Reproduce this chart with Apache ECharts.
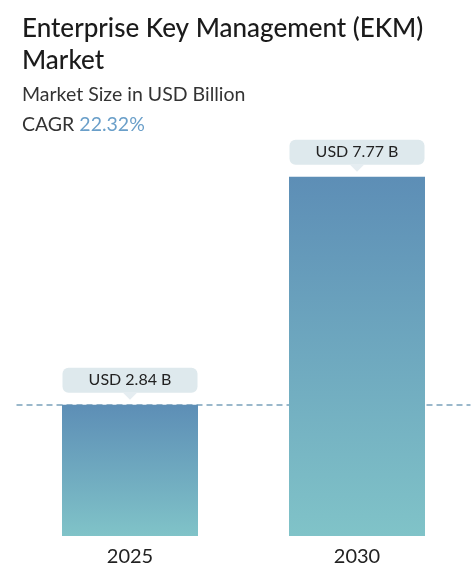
<!DOCTYPE html>
<html>
<head>
<meta charset="utf-8">
<script src="https://cdn.jsdelivr.net/npm/echarts@6/dist/echarts.min.js"></script>
<style>
html,body{margin:0;padding:0;background:#fff;}
#chart{width:475px;height:577px;}
</style>
</head>
<body>
<div id="chart"></div>
<script>
const categories = ['2025', '2030'];
const marketSize = [2.84, 7.77];
const valueLabels = ['USD 2.84 B', 'USD 7.77 B'];
const titleText = 'Enterprise Key Management (EKM)\nMarket';
const subtitleText = 'Market Size in USD Billion';
const cagrText = '22.32%';

const FONT = 'Lato, "Open Sans", sans-serif';
const chart = echarts.init(document.getElementById('chart'));
chart.setOption({
  backgroundColor: '#ffffff',
  animation: false,
  title: [
    {
      text: titleText, left: 17, top: 8,
      textStyle: { fontFamily: FONT, fontSize: 26, fontWeight: 500, color: '#1b1b1b', lineHeight: 32 }
    },
    {
      text: subtitleText, left: 17, top: 80,
      textStyle: { fontFamily: FONT, fontSize: 19.5, fontWeight: 'normal', color: '#333333' }
    },
    {
      text: 'CAGR {v|' + cagrText + '}', left: 17, top: 110,
      textStyle: {
        fontFamily: FONT, fontSize: 19.5, fontWeight: 'normal', color: '#333333',
        rich: { v: { fontFamily: FONT, fontSize: 19.5, color: '#6a9fc9' } }
      }
    }
  ],
  grid: { left: 16.5, right: 4.5, top: 166, bottom: 41 },
  xAxis: {
    type: 'category', data: categories,
    axisLine: { show: false }, axisTick: { show: false },
    axisLabel: { fontFamily: FONT, fontSize: 20, color: '#222222', margin: 11 }
  },
  yAxis: {
    type: 'value', min: 0, max: 8, show: false, splitLine: { show: false }
  },
  series: [
    {
      type: 'scatter', z: 1,
      data: marketSize,
      symbol: 'triangle', symbolRotate: 180, symbolSize: [14, 7], symbolOffset: [0, -8.5],
      itemStyle: { color: '#dee9ed' },
      markLine: {
        silent: true, symbol: 'none', z: 1,
        label: { show: false },
        lineStyle: { color: '#7aa1ba', type: [6, 4], width: 1.5 },
        data: [{ yAxis: marketSize[0] }]
      }
    },
    {
      type: 'bar', z: 3,
      data: marketSize,
      barWidth: 136,
      itemStyle: {
        color: new echarts.graphic.LinearGradient(0, 0, 0, 1, [
          { offset: 0, color: '#5d8eb6' },
          { offset: 1, color: '#80c3c8' }
        ])
      },
      label: {
        show: true, position: 'top', distance: 12,
        formatter: p => valueLabels[p.dataIndex],
        fontFamily: FONT, fontSize: 16, color: '#222222',
        backgroundColor: '#dee9ed', borderRadius: 6,
        width: 135, align: 'center', padding: [5, 0], lineHeight: 15
      }
    }
  ]
});
</script>
</body>
</html>
